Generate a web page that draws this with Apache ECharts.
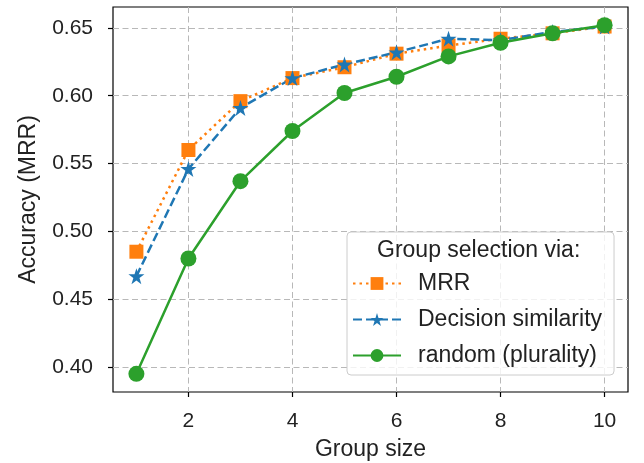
<!DOCTYPE html>
<html>
<head>
<meta charset="utf-8">
<script src="https://cdn.jsdelivr.net/npm/echarts@6/dist/echarts.min.js"></script>
<style>
html,body{margin:0;padding:0;background:#fff;}
#chart{width:644px;height:463px;}
</style>
</head>
<body>
<div id="chart"></div>
<script>
const groupSizes = [1, 2, 3, 4, 5, 6, 7, 8, 9, 10];
const mrrValues = [0.485, 0.560, 0.596, 0.613, 0.621, 0.631, 0.637, 0.642, 0.646, 0.651];
const decisionValues = [0.467, 0.546, 0.591, 0.613, 0.623, 0.632, 0.642, 0.641, 0.647, 0.651];
const randomValues = [0.395, 0.480, 0.537, 0.574, 0.602, 0.614, 0.629, 0.639, 0.646, 0.652];
const xTicks = [2, 4, 6, 8, 10];
const yTicks = [0.40, 0.45, 0.50, 0.55, 0.60, 0.65];
const seriesNames = ['MRR', 'Decision similarity', 'random (plurality)'];
const legendTitle = 'Group selection via:';
const xName = 'Group size';
const yName = 'Accuracy (MRR)';

const FONT = '"Liberation Sans", Arial, sans-serif';
const chart = echarts.init(document.getElementById('chart'), null, {renderer: 'canvas'});
const pairs = (ys) => groupSizes.map((x, i) => [x, ys[i]]);
const gridLine = {show: true, lineStyle: {color: '#b8b8b8', width: 1, type: [6, 3.5]}};

chart.setOption({
  animation: false,
  backgroundColor: '#fff',
  grid: {left: 113, right: 16, top: 7, bottom: 71, show: true, borderColor: '#000', borderWidth: 1.2,
         backgroundColor: 'transparent', containLabel: false, outerBoundsMode: 'none'},
  xAxis: {
    type: 'value', min: 0.55, max: 10.45,
    name: xName, nameLocation: 'middle', nameGap: 46,
    nameTextStyle: {fontFamily: FONT, fontSize: 23, color: '#222'},
    axisLine: {show: false},
    axisTick: {show: true, length: 5, lineStyle: {color: '#000', width: 1.2}, customValues: xTicks},
    axisLabel: {fontFamily: FONT, fontSize: 21, color: '#222', margin: 19, customValues: xTicks, formatter: v => String(v)},
    splitLine: gridLine
  },
  yAxis: {
    type: 'value', min: 0.3816, max: 0.6654,
    name: yName, nameLocation: 'middle', nameGap: 73, nameRotate: 90,
    nameTextStyle: {fontFamily: FONT, fontSize: 23, color: '#222'},
    axisLine: {show: false},
    axisTick: {show: true, length: 5, lineStyle: {color: '#000', width: 1.2}, customValues: yTicks},
    axisLabel: {fontFamily: FONT, fontSize: 21, color: '#222', margin: 20, customValues: yTicks, formatter: v => v.toFixed(2)},
    splitLine: gridLine
  },
  legend: {
    orient: 'vertical', left: 347, top: 232, width: 266,
    padding: [40, 12, 8, 5],
    itemGap: 13, itemWidth: 48, itemHeight: 16,
    backgroundColor: 'rgba(255,255,255,0.8)', borderColor: '#cccccc', borderWidth: 1, borderRadius: 4,
    textStyle: {fontFamily: FONT, fontSize: 23, color: '#222', padding: [0, 0, 0, 12]},
    data: seriesNames
  },
  graphic: [{
    type: 'text', left: 377, top: 239, z: 100,
    style: {text: legendTitle, font: '23px ' + FONT, fill: '#222'}
  }],
  series: [
    {name: seriesNames[0], type: 'line', data: pairs(mrrValues), symbol: 'rect', symbolSize: 14,
     itemStyle: {color: '#ff7f0e'}, lineStyle: {color: '#ff7f0e', width: 2.5, type: [2.5, 4]}},
    {name: seriesNames[1], type: 'line', data: pairs(decisionValues), symbol: 'path://M50,0 L61.8,36.2 L100,36.2 L69.1,58.8 L80.9,95.1 L50,72.7 L19.1,95.1 L30.9,58.8 L0,36.2 L38.2,36.2 Z', symbolSize: 16,
     itemStyle: {color: '#1f77b4'}, lineStyle: {color: '#1f77b4', width: 2.5, type: [9, 4]}},
    {name: seriesNames[2], type: 'line', data: pairs(randomValues), symbol: 'circle', symbolSize: 16,
     itemStyle: {color: '#2ca02c'}, lineStyle: {color: '#2ca02c', width: 2.5}}
  ]
});
</script>
</body>
</html>
